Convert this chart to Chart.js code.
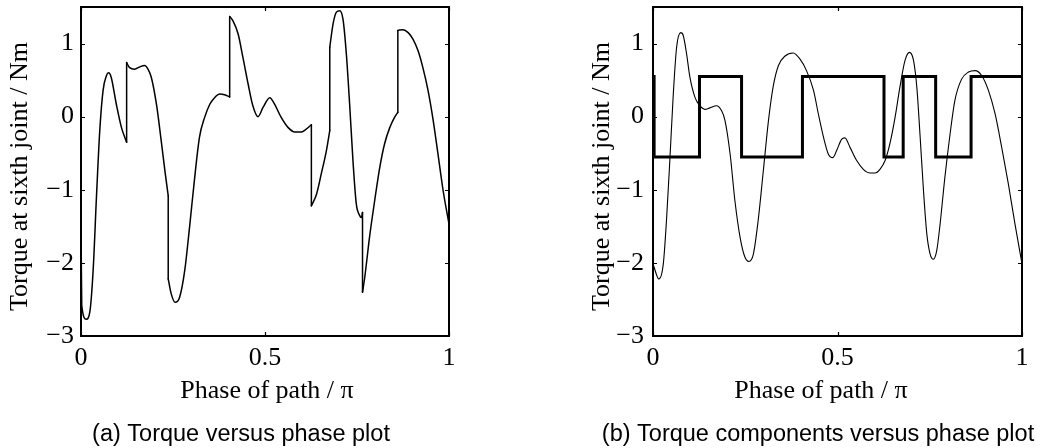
<!DOCTYPE html>
<html>
<head>
<meta charset="utf-8">
<title>Torque versus phase</title>
<script src="https://cdn.jsdelivr.net/npm/chart.js@4.4.1/dist/chart.umd.min.js"></script>
<style>
  html, body { margin: 0; padding: 0; background: #fff; }
  body { width: 1051px; height: 448px; position: relative; overflow: hidden; }
  canvas { position: absolute; top: 0; }
  #torquePlot { left: 0; }
  #componentPlot { left: 560px; }
</style>
</head>
<body>
<canvas id="torquePlot" width="520" height="448"></canvas>
<canvas id="componentPlot" width="491" height="448"></canvas>
<script>
// axis ticks shared by both plots
const xTicks = [0, 0.5, 1];
const yTicks = [-3, -2, -1, 0, 1];

// (a) total torque at the sixth joint, phase in units of pi
// (repeated phase values are the jumps in the torque)
const phaseA = [0, 0.002, 0.0145, 0.024, 0.033, 0.042, 0.051, 0.060, 0.069, 0.075,
  0.082, 0.096, 0.110, 0.124, 0.124, 0.132, 0.146, 0.159, 0.173, 0.182,
  0.191, 0.205, 0.218, 0.229, 0.237, 0.237, 0.245, 0.256, 0.268, 0.282,
  0.295, 0.309, 0.322, 0.336, 0.350, 0.363, 0.377, 0.390, 0.404, 0.404,
  0.413, 0.427, 0.440, 0.454, 0.467, 0.481, 0.495, 0.513, 0.526, 0.544,
  0.563, 0.581, 0.599, 0.612, 0.626, 0.626, 0.640, 0.653, 0.667, 0.676,
  0.676, 0.685, 0.694, 0.703, 0.712, 0.721, 0.730, 0.739, 0.748, 0.757,
  0.762, 0.765, 0.765, 0.771, 0.784, 0.798, 0.812, 0.825, 0.839, 0.852,
  0.861, 0.861, 0.875, 0.889, 0.902, 0.916, 0.929, 0.943, 0.957, 0.970,
  0.984, 1.0];
const torqueA = [-1.45, -2.58, -2.77, -2.67, -2.10, -1.10, -0.19, 0.36, 0.56, 0.60,
  0.54, 0.17, -0.15, -0.35, 0.74, 0.67, 0.65, 0.68, 0.70, 0.65,
  0.54, 0.17, -0.33, -0.78, -1.08, -2.22, -2.42, -2.54, -2.47, -2.10,
  -1.51, -0.83, -0.28, -0.01, 0.17, 0.26, 0.31, 0.30, 0.27, 1.37,
  1.31, 1.13, 0.81, 0.45, 0.15, 0.0, 0.13, 0.26, 0.17, -0.01,
  -0.15, -0.21, -0.21, -0.17, -0.11, -1.22, -1.06, -0.78, -0.46, -0.19,
  0.95, 1.27, 1.43, 1.45, 1.33, 0.86, 0.17, -0.60, -1.19, -1.35,
  -1.38, -1.31, -2.40, -2.20, -1.65, -1.15, -0.69, -0.37, -0.15, -0.01,
  0.06, 1.18, 1.19, 1.15, 1.06, 0.90, 0.67, 0.36, -0.05, -0.51,
  -1.01, -1.47];

// (b) smooth torque component
const phaseB = [0, 0.003, 0.016, 0.028, 0.037, 0.046, 0.055, 0.064, 0.075, 0.082,
  0.091, 0.100, 0.114, 0.127, 0.141, 0.154, 0.172, 0.186, 0.195, 0.209,
  0.222, 0.236, 0.249, 0.260, 0.272, 0.285, 0.299, 0.313, 0.326, 0.340,
  0.358, 0.380, 0.398, 0.416, 0.435, 0.448, 0.462, 0.475, 0.487, 0.498,
  0.511, 0.520, 0.534, 0.552, 0.570, 0.588, 0.602, 0.615, 0.629, 0.642,
  0.656, 0.669, 0.683, 0.695, 0.706, 0.715, 0.724, 0.733, 0.742, 0.751,
  0.760, 0.769, 0.778, 0.791, 0.805, 0.818, 0.836, 0.855, 0.873, 0.891,
  0.909, 0.927, 0.945, 0.963, 0.981, 1.0];
const torqueB = [-2.01, -2.06, -2.22, -2.01, -1.38, -0.56, 0.31, 0.95, 1.15, 1.11,
  0.86, 0.54, 0.26, 0.15, 0.10, 0.12, 0.15, 0.08, -0.05, -0.51,
  -1.15, -1.65, -1.92, -1.98, -1.88, -1.42, -0.74, -0.05, 0.42, 0.70,
  0.83, 0.87, 0.79, 0.63, 0.36, 0.04, -0.28, -0.51, -0.56, -0.46,
  -0.31, -0.29, -0.42, -0.60, -0.72, -0.77, -0.77, -0.72, -0.60, -0.37,
  -0.01, 0.40, 0.77, 0.88, 0.77, 0.40, -0.28, -1.01, -1.60, -1.88,
  -1.95, -1.83, -1.47, -0.83, -0.24, 0.22, 0.51, 0.61, 0.63, 0.56,
  0.36, 0.04, -0.42, -0.92, -1.47, -2.01];

// (b) switching component: level that holds from each phase onward
const stepPhase = [0, 0.003, 0.126, 0.240, 0.405, 0.626, 0.678, 0.766, 0.862, 1];
const stepLevel = [0.55, -0.55, 0.55, -0.55, 0.55, -0.55, 0.55, -0.55, 0.55, 0.55];

const serif = '"Liberation Serif", "Times New Roman", serif';
const sans = '"Liberation Sans", Arial, sans-serif';

const toPoints = (xs, ys) => xs.map((x, i) => ({ x, y: ys[i] }));
const fmtTick = v => (v < 0 ? '\u2212' + Math.abs(v) : String(v));

// split a curve into smooth pieces at repeated phases; the jumps
// themselves become vertical strokes separated by gaps
function splitAtJumps(xs, ys) {
  const pieces = [[]];
  const jumps = [];
  xs.forEach((x, i) => {
    if (i > 0 && x === xs[i - 1]) {
      jumps.push({ x, y: ys[i - 1] }, { x, y: ys[i] }, { x, y: null });
      pieces.push([]);
    }
    pieces[pieces.length - 1].push({ x, y: ys[i] });
  });
  return { pieces, jumps };
}

// boxed axes with inward ticks, plus axis titles and the caption
const matlabAxes = {
  id: 'matlabAxes',
  afterDraw(chart, args, o) {
    const { ctx, chartArea: a, scales: { x, y } } = chart;
    const len = 4;
    ctx.save();
    ctx.strokeStyle = '#000';
    ctx.lineWidth = 1.2;
    ctx.beginPath();
    xTicks.forEach(v => {
      const px = Math.round(x.getPixelForValue(v)) + 0.5;
      ctx.moveTo(px, a.bottom); ctx.lineTo(px, a.bottom - len);
      ctx.moveTo(px, a.top); ctx.lineTo(px, a.top + len);
    });
    yTicks.forEach(v => {
      const py = Math.round(y.getPixelForValue(v)) + 0.5;
      ctx.moveTo(a.left, py); ctx.lineTo(a.left + len, py);
      ctx.moveTo(a.right, py); ctx.lineTo(a.right - len, py);
    });
    ctx.stroke();
    ctx.lineWidth = 2;
    ctx.strokeRect(a.left, a.top, a.right - a.left, a.bottom - a.top);

    ctx.fillStyle = '#000';
    ctx.textAlign = 'center';
    ctx.textBaseline = 'alphabetic';
    ctx.font = '26px ' + serif;
    ctx.fillText(o.xTitle, (a.left + a.right) / 2 + o.xTitleShift, o.xTitleBaseline);
    ctx.save();
    ctx.translate(a.left - o.yTitleGap, (a.top + a.bottom) / 2 + 5);
    ctx.rotate(-Math.PI / 2);
    ctx.fillText(o.yTitle, 0, 0);
    ctx.restore();

    ctx.font = '23.5px ' + sans;
    ctx.fillText(o.caption, o.captionX, 441);
    ctx.restore();
  }
};

function makePlot(id, datasets, box, labels) {
  return new Chart(document.getElementById(id), {
    type: 'line',
    data: { datasets },
    options: {
      responsive: false,
      animation: false,
      events: [],
      layout: { padding: { top: 7, right: box.padRight, left: 0, bottom: 0 } },
      plugins: {
        legend: { display: false },
        tooltip: { enabled: false },
        matlabAxes: labels
      },
      scales: {
        x: {
          type: 'linear',
          min: 0,
          max: 1,
          grid: { display: false, drawTicks: false },
          border: { display: false },
          afterBuildTicks: s => { s.ticks = xTicks.map(v => ({ value: v })); },
          afterFit: s => { s.height = 112; s.paddingLeft = 0; s.paddingRight = 0; },
          ticks: {
            padding: 7,
            color: '#000',
            maxRotation: 0,
            autoSkip: false,
            font: { family: serif, size: 26 },
            callback: fmtTick
          }
        },
        y: {
          type: 'linear',
          min: -3,
          max: 1.5,
          grid: { display: false, drawTicks: false },
          border: { display: false },
          afterBuildTicks: s => { s.ticks = yTicks.map(v => ({ value: v })); },
          afterFit: s => { s.width = box.yWidth; s.paddingTop = 0; s.paddingBottom = 0; },
          ticks: {
            padding: box.yPad,
            color: '#000',
            autoSkip: false,
            font: { family: serif, size: 26 },
            callback: fmtTick
          }
        }
      }
    },
    plugins: [matlabAxes]
  });
}

const xTitle = 'Phase of path / \u03c0';
const yTitle = 'Torque at sixth joint / Nm';

const thin = { borderColor: '#000', pointRadius: 0, fill: false, borderCapStyle: 'round', borderJoinStyle: 'round' };

const splitA = splitAtJumps(phaseA, torqueA);
const datasetsA = splitA.pieces.map(piece => ({
  ...thin,
  data: piece,
  borderWidth: 1.5,
  cubicInterpolationMode: 'monotone'
}));
datasetsA.push({ ...thin, data: splitA.jumps, borderWidth: 1.5, tension: 0, spanGaps: false });

makePlot('torquePlot', datasetsA, { yWidth: 81, yPad: 7, padRight: 71 }, {
  xTitle, yTitle,
  xTitleShift: 2, xTitleBaseline: 397.5, yTitleGap: 54,
  caption: '(a) Torque versus phase plot', captionX: 241
});

makePlot('componentPlot', [
  {
    ...thin,
    data: toPoints(phaseB, torqueB),
    borderWidth: 1.1,
    cubicInterpolationMode: 'monotone'
  },
  {
    data: toPoints(stepPhase, stepLevel),
    borderColor: '#000',
    borderWidth: 3,
    pointRadius: 0,
    stepped: true,
    fill: false
  }
], { yWidth: 93, yPad: 9, padRight: 29 }, {
  xTitle, yTitle,
  xTitleShift: -16.5, xTitleBaseline: 397.5, yTitleGap: 44,
  caption: '(b) Torque components versus phase plot', captionX: 258
});
</script>
</body>
</html>
